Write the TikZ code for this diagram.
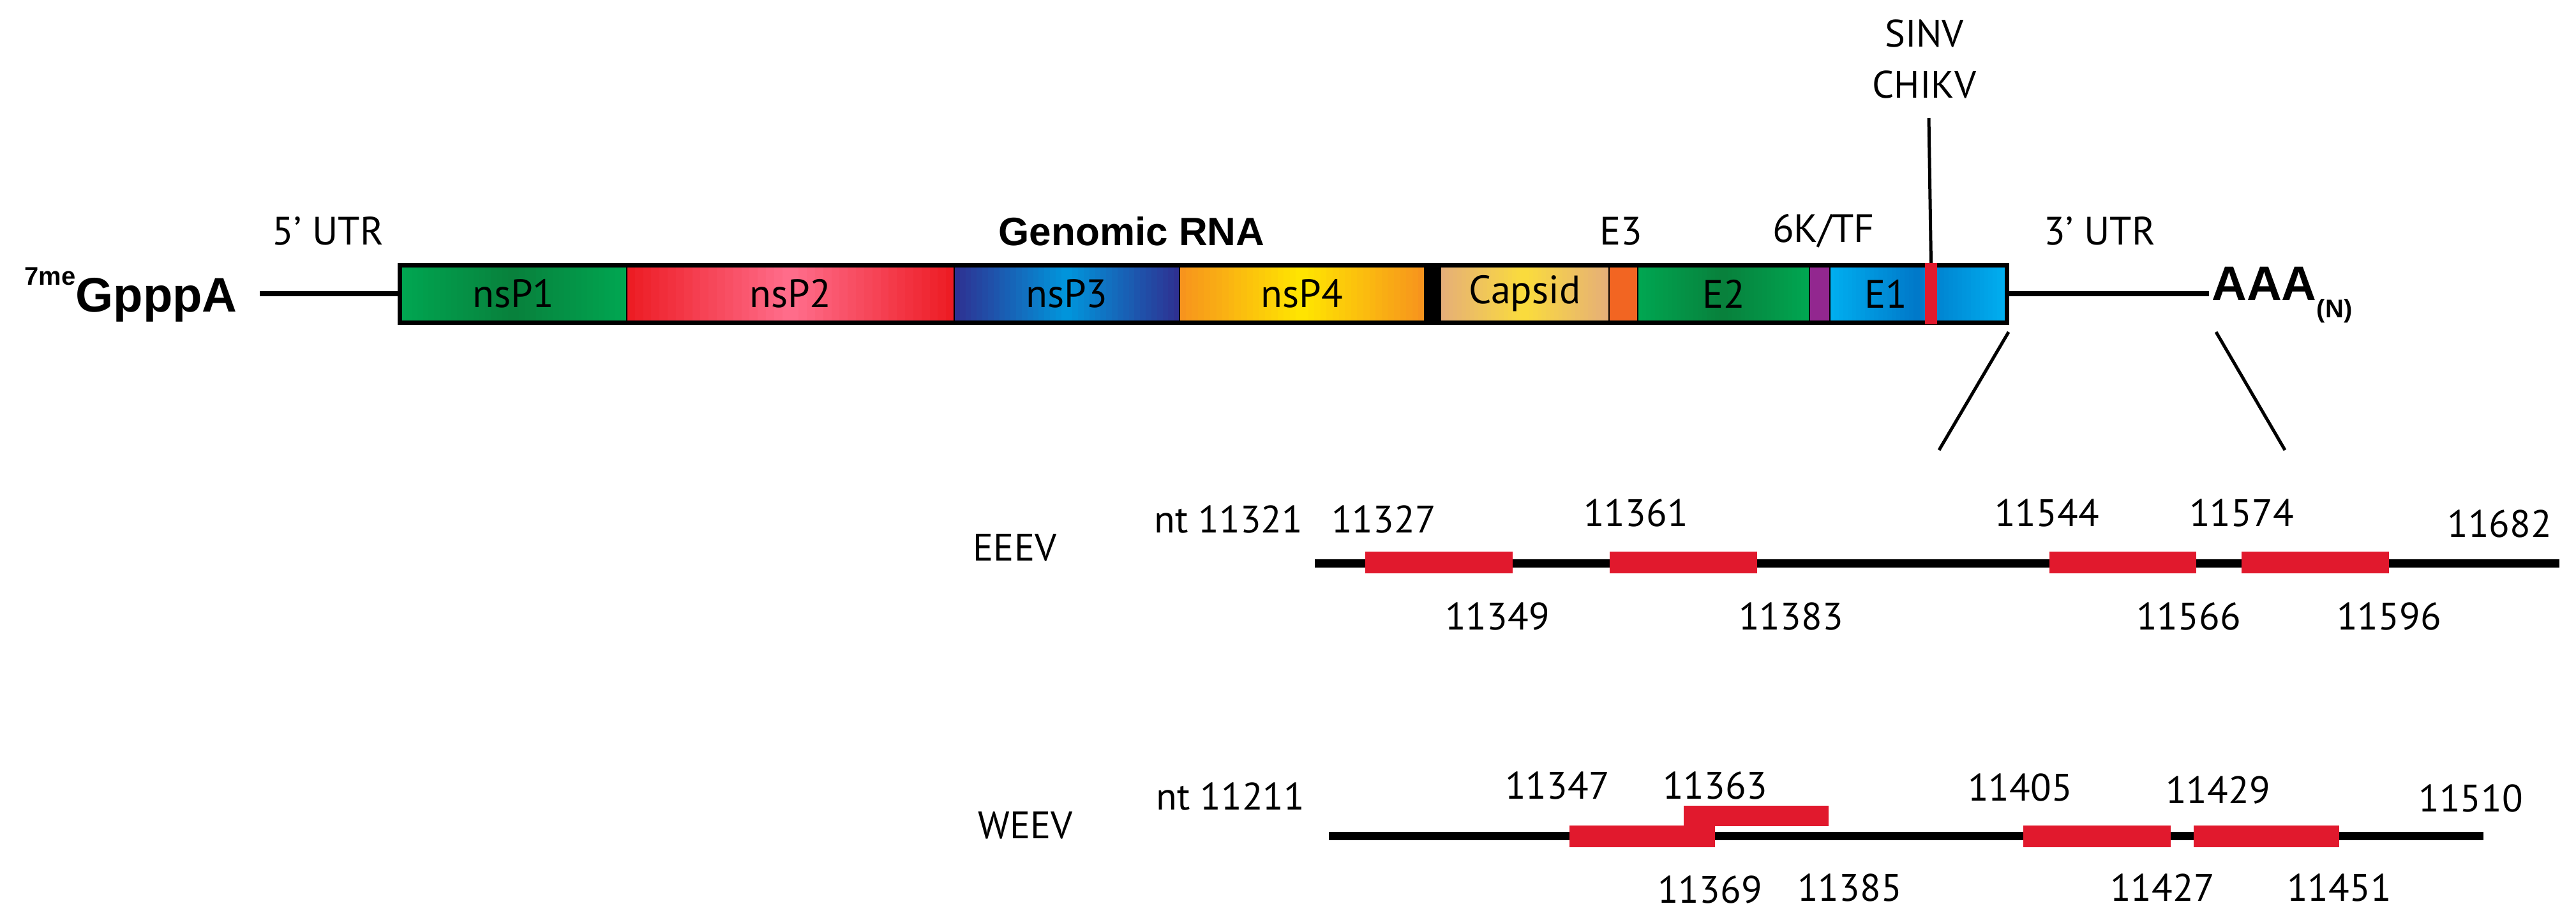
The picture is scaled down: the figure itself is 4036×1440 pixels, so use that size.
\documentclass[tikz,border=0pt]{standalone}
\usepackage{fontspec}
\setmainfont{PT Sans}
\newfontfamily\boldsans{Liberation Sans}
\definecolor{gA}{RGB}{0,166,81}
\definecolor{gB}{RGB}{8,128,60}
\definecolor{rA}{RGB}{237,28,36}
\definecolor{rB}{RGB}{255,110,140}
\definecolor{bA}{RGB}{46,49,146}
\definecolor{bB}{RGB}{0,150,220}
\definecolor{oA}{RGB}{247,148,29}
\definecolor{yB}{RGB}{255,230,0}
\definecolor{tanA}{RGB}{230,175,120}
\definecolor{tanB}{RGB}{250,220,60}
\definecolor{eIII}{RGB}{242,101,34}
\definecolor{pur}{RGB}{146,39,143}
\definecolor{cyA}{RGB}{0,174,239}
\definecolor{cyB}{RGB}{0,120,200}
\definecolor{rnared}{RGB}{225,25,45}
\newcommand\gradbox[4]{%
  \pgfmathsetmacro\gw{(#2-#1)/40}%
  \foreach \i in {0,...,39}{%
    \pgfmathtruncatemacro\gpct{abs(\i-19.5)/19.5*100}%
    \pgfmathsetmacro\gxa{#1+\gw*\i}%
    \pgfmathsetmacro\gxb{#1+\gw*\i+\gw+0.8}%
    \fill[#3!\gpct!#4] (\gxa,416) rectangle (\gxb,504);}}
\tikzset{
  seg/.style={draw=black, line width=2pt, minimum height=88pt, inner sep=0pt, font=\fontsize{62}{70}\selectfont},
  lbl/.style={inner sep=0pt, font=\fontsize{62}{70}\selectfont},
  num/.style={inner sep=0pt, font=\fontsize{60}{68}\selectfont},
  bld/.style={inner sep=0pt, font=\boldsans\bfseries\fontsize{62}{70}\selectfont},
  thinline/.style={line width=5pt},
  rnaline/.style={line width=13pt},
  site/.style={fill=rnared, inner sep=0pt, minimum height=34pt},
}
\begin{document}
\begin{tikzpicture}[x=1pt,y=-1pt]
\useasboundingbox (0,0) rectangle (4036,1440);
% gradients
\gradbox{627}{982}{gA}{gB}
\gradbox{982}{1495}{rA}{rB}
\gradbox{1495}{1848}{bA}{bB}
\gradbox{1848}{2232}{oA}{yB}
\gradbox{2257}{2521}{tanA}{tanB}
\gradbox{2566}{2835}{gA}{gB}
\gradbox{2867}{3143}{cyA}{cyB}
% genome bar
\node[seg, minimum width=355pt] (nsp1) at (804.5,460) {nsP1};
\node[seg, minimum width=513pt] (nsp2) at (1238.5,460) {nsP2};
\node[seg, minimum width=353pt] (nsp3) at (1671.5,460) {nsP3};
\node[seg, minimum width=384pt] (nsp4) at (2040,460) {nsP4};
\node[seg, minimum width=25pt, fill=black] (blk) at (2244.5,460) {};
\node[seg, minimum width=264pt] (capsid) at (2389,460) {Capsid};
\node[seg, minimum width=45pt, fill=eIII] (e3) at (2543.5,460) {};
\node[seg, minimum width=269pt] (e2) at (2700.5,460) {E2};
\node[seg, minimum width=32pt, fill=pur] (k6) at (2851,460) {};
\node[seg, minimum width=276pt] (e1) at (3005,460) {};
\node[lbl] (e1t) at (2955,460) {E1};
\draw[line width=7pt] (nsp1.north west) rectangle (e1.south east);
\node[fill=rnared, inner sep=0pt, minimum width=19pt, minimum height=96pt] (stripe) at (3025.5,460) {};
% ends
\node[bld, font=\boldsans\bfseries\fontsize{76}{80}\selectfont, anchor=east] (cap) at (372,462) {\raisebox{0.55em}{\fontsize{40}{44}\selectfont 7me}GpppA};
\node[bld, font=\boldsans\bfseries\fontsize{76}{80}\selectfont, anchor=west] (polya) at (3465,462) {AAA\raisebox{-0.35em}{\fontsize{40}{44}\selectfont (N)}};
\draw[line width=8pt] (407,460) -- (nsp1.west);
\coordinate (utr3end) at (3461,460);
\draw[line width=8pt] (e1.east) -- (utr3end);
% labels above
\node[lbl] (utr5) at (514,362) {5’ UTR};
\node[bld] (grna) at (1773,362) {Genomic RNA};
\node[lbl] (e3t) at (2540,362) {E3};
\node[lbl] (k6t) at (2857,362) {6K/TF};
\node[lbl] (utr3) at (3290,362) {3’ UTR};
\node[num] (sinv) at (3015,52) {SINV};
\node[num] (chikv) at (3015,132) {CHIKV};
\coordinate (vtop) at (3022,185);
\draw[thinline] (vtop) -- (stripe.north);
% zoom lines
\coordinate (za) at (3147,520); \coordinate (zb) at (3038,705);
\coordinate (zc) at (3472,520); \coordinate (zd) at (3580,705);
\draw[thinline] (za) -- (zb);
\draw[thinline] (zc) -- (zd);
% EEEV
\node[num] (eeev) at (1590,858) {EEEV};
\coordinate (ea) at (2060,882); \coordinate (eb) at (4010,882);
\draw[rnaline] (ea) -- (eb);
\node[site, minimum width=231pt] (es1) at (2254.5,881) {};
\node[site, minimum width=231pt] (es2) at (2637.5,881) {};
\node[site, minimum width=230pt] (es3) at (3326,881) {};
\node[site, minimum width=231pt] (es4) at (3627.5,881) {};
\node[num] at (1925,813) {nt 11321};
\node[num] at (2168,813) {11327};
\node[num] at (2563,803) {11361};
\node[num] at (3207,803) {11544};
\node[num] at (3512,803) {11574};
\node[num] at (3916,820) {11682};
\node[num] at (2346,965) {11349};
\node[num] at (2806,965) {11383};
\node[num] at (3429,965) {11566};
\node[num] at (3743,965) {11596};
% WEEV
\node[num] (weev) at (1607,1293) {WEEV};
\coordinate (wa) at (2082,1309); \coordinate (wb) at (3891,1309);
\draw[rnaline] (wa) -- (wb);
\node[site, minimum width=228pt] (ws1) at (2573,1310) {};
\node[site, minimum width=227pt, minimum height=32pt] (ws2) at (2751.5,1278) {};
\node[site, minimum width=231pt] (ws3) at (3285.5,1310) {};
\node[site, minimum width=228pt] (ws4) at (3551,1310) {};
\node[num] at (1928,1247) {nt 11211};
\node[num] at (2440,1230) {11347};
\node[num] at (2687,1230) {11363};
\node[num] at (3165,1233) {11405};
\node[num] at (3475,1237) {11429};
\node[num] at (3871,1250) {11510};
\node[num] at (2679,1393) {11369};
\node[num] at (2898,1390) {11385};
\node[num] at (3388,1390) {11427};
\node[num] at (3665,1390) {11451};
\end{tikzpicture}
\end{document}
